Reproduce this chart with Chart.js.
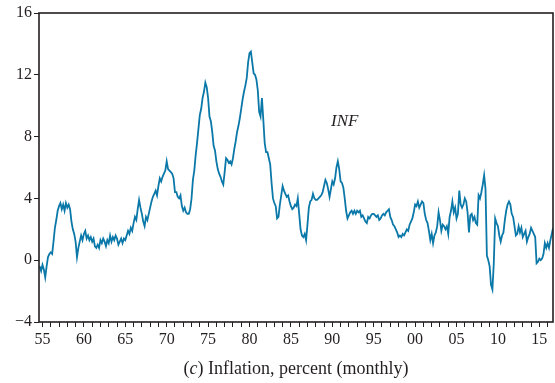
<!DOCTYPE html>
<html>
<head>
<meta charset="utf-8">
<script src="https://cdn.jsdelivr.net/npm/chart.js@4.4.1/dist/chart.umd.min.js"></script>
<style>
  html, body { margin: 0; padding: 0; background: #fff; }
  #wrap { width: 555px; height: 383px; position: relative; }
</style>
</head>
<body>
<div id="wrap"><canvas id="infChart"></canvas></div>
<script>
// inflation, percent, every two months
const startYear = 1954 + 4 / 6;
const stepYears = 1 / 6;
const inflation = [
  -0.4, -0.7,
  -0.3, -0.6, -1.1, -0.4, 0.2, 0.4,      // 55
  0.5, 0.4, 1.2, 2.1, 2.6, 3.2,
  3.5, 3.7, 3.3, 3.6, 3.2, 3.7,
  3.4, 3.6, 3.3, 2.5, 2.0, 1.7,
  1.2, 0.2, 0.8, 1.2, 1.6, 1.3,
  1.7, 1.9, 1.4, 1.6, 1.3, 1.5,          // 60
  1.2, 1.4, 0.9, 0.8, 1.0, 0.8,
  1.3, 1.1, 1.4, 1.2, 0.9, 1.3,
  1.1, 1.6, 1.2, 1.5, 1.3, 1.6,
  1.4, 1.0, 1.2, 1.4, 1.1, 1.4,
  1.3, 1.6, 1.9, 1.7, 2.1, 1.9,          // 65
  2.4, 2.8, 2.6, 3.3, 3.9, 3.4,
  3.0, 2.5, 2.2, 2.8, 2.6, 3.0,
  3.4, 3.8, 4.1, 4.3, 4.5, 4.2,
  4.8, 5.3, 5.1, 5.4, 5.6, 5.8,
  6.4, 5.9, 5.8, 5.7, 5.6, 5.3,          // 70
  4.4, 4.4, 4.1, 4.0, 4.2, 3.5,
  3.2, 3.4, 3.1, 3.0, 3.0, 3.3,
  4.0, 5.2, 5.8, 6.8, 7.6, 8.5,
  9.4, 9.8, 10.5, 10.9, 11.5, 11.2,
  10.5, 9.3, 9.0, 8.3, 7.4, 7.1,         // 75
  6.4, 5.9, 5.6, 5.4, 5.1, 4.9,
  5.7, 6.6, 6.5, 6.3, 6.4, 6.2,
  6.6, 7.2, 7.7, 8.3, 8.7, 9.2,
  9.8, 10.4, 10.9, 11.3, 11.8, 12.8,
  13.4, 13.5, 12.8, 12.1, 12.0, 11.7,    // 80
  11.0, 9.6, 9.3, 10.5, 9.1, 7.6,
  7.0, 7.0, 6.6, 6.2, 5.0, 4.0,
  3.7, 3.5, 2.7, 2.8, 3.6, 4.2,
  4.8, 4.5, 4.3, 4.1, 4.2, 3.8,
  3.5, 3.3, 3.4, 3.6, 3.5, 4.0,          // 85
  3.0, 2.0, 1.6, 1.5, 1.7, 1.3,
  2.3, 3.4, 3.8, 3.9, 4.3, 4.0,
  3.9, 3.9, 4.0, 4.1, 4.2, 4.4,
  4.8, 5.2, 5.0, 4.6, 4.1, 4.6,
  5.1, 4.9, 5.3, 6.0, 6.4, 5.9,          // 90
  5.1, 5.0, 4.7, 4.0, 3.2, 2.7,
  2.9, 3.1, 3.2, 3.0, 3.2, 3.0,
  3.2, 3.1, 3.2, 2.8, 2.9, 2.7,
  2.5, 2.4, 2.8, 2.7, 2.9, 3.0,
  3.0, 2.9, 2.8, 2.9, 2.6, 2.7,          // 95
  2.9, 3.0, 2.9, 3.1, 3.2, 3.3,
  2.8, 2.6, 2.3, 2.2, 2.0, 1.8,
  1.5, 1.6, 1.5, 1.7, 1.6, 1.8,
  2.0, 1.9, 2.3, 2.5, 2.7, 3.1,
  3.6, 3.5, 3.8, 3.4, 3.6, 3.8,          // 00
  3.7, 3.0, 2.6, 2.4, 1.9, 1.3,
  1.7, 1.1, 1.6, 1.8, 2.2, 3.1,
  2.6, 1.9, 2.3, 2.2, 2.0, 2.2,
  1.7, 2.8, 3.2, 3.8, 3.1, 3.4,
  2.7, 3.0, 4.5, 3.6, 3.4, 3.6,          // 05
  4.0, 3.8, 3.1, 1.8, 2.9, 3.0,
  2.6, 2.8, 2.4, 2.3, 4.2, 4.0,
  4.4, 4.9, 5.5, 4.6, 0.3, 0.0,
  -0.4, -1.6, -1.9, -0.2, 2.7, 2.4,
  2.2, 1.6, 1.2, 1.6, 1.8, 2.6,          // 10
  3.2, 3.6, 3.8, 3.6, 3.0, 2.8,
  2.2, 1.6, 1.7, 2.2, 1.8, 2.1,
  1.5, 1.7, 1.9, 1.2, 1.5, 1.7,
  2.1, 1.9, 1.7, 1.5, -0.2, -0.1,
  0.1, 0.0, 0.1, 0.4, 1.1, 0.8,          // 15
  1.1, 0.8, 1.3, 1.7, 2.1
];
const yTicks = [-4, 0, 4, 8, 12, 16];
const xTickYears = [];
for (let y = 1955; y <= 2016; y++) xTickYears.push(y);

const points = inflation.map((v, i) => ({ x: startYear + i * stepYears, y: v }));

const ink = '#231f20';
const serif = '"Liberation Serif", "Times New Roman", serif';

// box round the plot, the caption and the INF label
const extras = {
  id: 'extras',
  afterDraw(chart) {
    const ctx = chart.ctx;
    const a = chart.chartArea;
    ctx.save();
    ctx.strokeStyle = ink;
    ctx.lineWidth = 1.6;
    ctx.strokeRect(a.left, a.top, a.right - a.left, a.bottom - a.top);

    ctx.fillStyle = ink;
    ctx.textBaseline = 'alphabetic';
    const parts = [
      ['(', '18px ' + serif],
      ['c', 'italic 18px ' + serif],
      [') Inflation, percent (monthly)', '18px ' + serif]
    ];
    let total = 0;
    parts.forEach(p => { ctx.font = p[1]; total += ctx.measureText(p[0]).width; });
    let x = (a.left + a.right) / 2 - total / 2;
    parts.forEach(p => {
      ctx.font = p[1];
      ctx.fillText(p[0], x, 374);
      x += ctx.measureText(p[0]).width;
    });

    ctx.font = 'italic 17px ' + serif;
    ctx.textAlign = 'center';
    ctx.textBaseline = 'middle';
    ctx.fillText('INF', chart.scales.x.getPixelForValue(1991.5), chart.scales.y.getPixelForValue(9.0));
    ctx.restore();
  }
};

new Chart(document.getElementById('infChart'), {
  type: 'line',
  data: {
    datasets: [{
      data: points,
      borderColor: '#0a78a8',
      borderWidth: 1.8,
      pointRadius: 0,
      tension: 0,
      fill: false
    }]
  },
  options: {
    responsive: true,
    maintainAspectRatio: false,
    animation: false,
    layout: { padding: { top: 13, right: 2, left: 0, bottom: 0 } },
    plugins: { legend: { display: false }, tooltip: { enabled: false } },
    scales: {
      x: {
        type: 'linear',
        min: 1954.58,
        max: 2016.65,
        afterBuildTicks: scale => { scale.ticks = xTickYears.map(v => ({ value: v })); },
        afterFit: scale => { scale.height = 61; },
        border: { display: false },
        grid: { drawOnChartArea: false, drawTicks: true, tickLength: 5, tickColor: ink, tickWidth: 1 },
        ticks: {
          autoSkip: false,
          maxRotation: 0,
          padding: 3,
          color: ink,
          font: { family: serif, size: 16 },
          callback: v => (v % 5 === 0 ? String(v % 100).padStart(2, '0') : '')
        }
      },
      y: {
        min: -4,
        max: 16,
        afterBuildTicks: scale => { scale.ticks = yTicks.map(v => ({ value: v })); },
        afterFit: scale => { scale.width = 39; },
        border: { display: false },
        grid: { drawOnChartArea: false, drawTicks: true, tickLength: 5, tickColor: ink, tickWidth: 1 },
        ticks: {
          padding: 2,
          color: ink,
          font: { family: serif, size: 16 },
          callback: v => (v < 0 ? '\u2212' + Math.abs(v) : String(v))
        }
      }
    }
  },
  plugins: [extras]
});
</script>
</body>
</html>
